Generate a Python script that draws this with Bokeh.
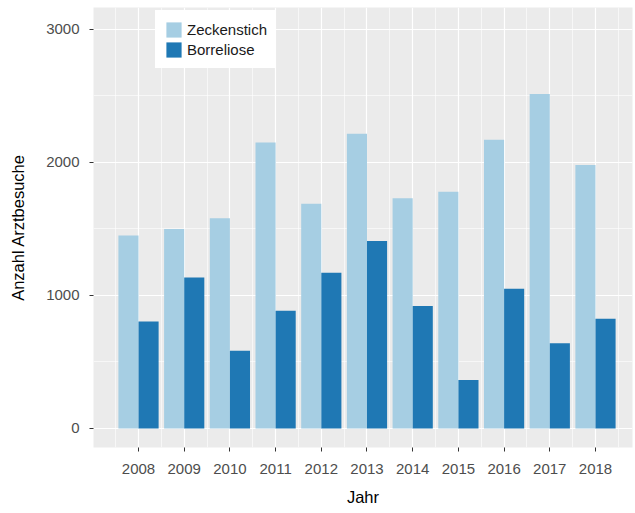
from bokeh.plotting import figure
from bokeh.models import ColumnDataSource, FixedTicker, Legend, LegendItem, Range1d
from bokeh.transform import dodge
from bokeh.embed import file_html
from bokeh.resources import INLINE

# ---- data ----
years = [2008, 2009, 2010, 2011, 2012, 2013, 2014, 2015, 2016, 2017, 2018]
zeckenstich = [1450, 1500, 1580, 2150, 1690, 2215, 1730, 1780, 2170, 2515, 1980]
borreliose = [805, 1135, 585, 885, 1170, 1410, 920, 365, 1050, 640, 825]
series_labels = ["Zeckenstich", "Borreliose"]
y_ticks = [0, 1000, 2000, 3000]
x_title = "Jahr"
y_title = "Anzahl Arztbesuche"

colors = ["#a6cee3", "#1f78b4"]
FONT = "Liberation Sans"

src = ColumnDataSource(dict(year=years, zeck=zeckenstich, borr=borreliose))

p = figure(frame_width=539, frame_height=440,
           x_range=Range1d(2007.015, 2018.81), y_range=Range1d(-143, 3165),
           output_backend="svg", toolbar_location=None,
           min_border_left=93, min_border_top=7, min_border_right=3, min_border_bottom=0,
           background_fill_color="#ebebeb", border_fill_color="white",
           outline_line_color=None)

bw = 0.44
r1 = p.vbar(x=dodge("year", -bw / 2, range=p.x_range), top="zeck", width=bw, bottom=0,
            source=src, fill_color=colors[0], line_color=None)
r2 = p.vbar(x=dodge("year", bw / 2, range=p.x_range), top="borr", width=bw, bottom=0,
            source=src, fill_color=colors[1], line_color=None)

# ticks / grids
x_minor = [years[0] - 0.5] + [y + 0.5 for y in years]
y_minor = [t - 500 for t in y_ticks] + [y_ticks[-1] + 500]
p.xaxis.ticker = FixedTicker(ticks=years, minor_ticks=x_minor)
p.yaxis.ticker = FixedTicker(ticks=y_ticks, minor_ticks=y_minor)

for g in (p.xgrid, p.ygrid):
    g.grid_line_color = "white"
    g.grid_line_width = 1.2
    g.minor_grid_line_color = "white"
    g.minor_grid_line_width = 0.6

for ax in (p.xaxis, p.yaxis):
    ax.axis_line_color = None
    ax.major_tick_line_color = "#333333"
    ax.major_tick_in = 0
    ax.major_tick_out = 4
    ax.minor_tick_line_color = None
    ax.major_label_text_font = FONT
    ax.major_label_text_font_size = "15px"
    ax.major_label_text_color = "#4d4d4d"
    ax.axis_label_text_font = FONT
    ax.axis_label_text_font_size = "16.5px"
    ax.axis_label_text_font_style = "normal"
    ax.axis_label_text_color = "black"

p.xaxis.axis_label = x_title
p.yaxis.axis_label = y_title
p.yaxis.major_label_standoff = 10
p.yaxis.axis_label_standoff = 16
p.xaxis.major_label_standoff = 12
p.xaxis.axis_label_standoff = 11

legend = Legend(items=[LegendItem(label=series_labels[0], renderers=[r1]),
                       LegendItem(label=series_labels[1], renderers=[r2])],
                location=(62, 379), margin=0, padding=8, spacing=0,
                glyph_width=19, glyph_height=19, label_height=20,
                label_standoff=4, label_text_font=FONT, label_text_font_size="15px",
                label_text_color="#1a1a1a",
                background_fill_color="white", background_fill_alpha=1.0,
                border_line_color="white", border_line_width=1)
p.add_layout(legend)

open("out.html", "w").write(file_html(p, INLINE))
